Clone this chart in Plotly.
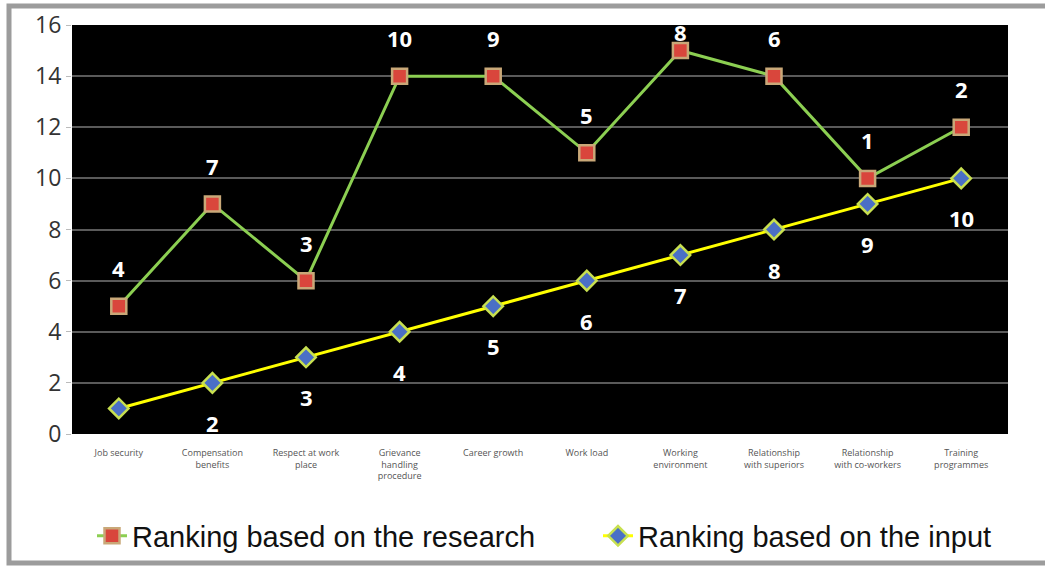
import plotly.graph_objects as go

categories = ["Job security", "Compensation<br>benefits", "Respect at work<br>place",
              "Grievance<br>handling<br>procedure", "Career growth", "Work load",
              "Working<br>environment", "Relationship<br>with superiors",
              "Relationship<br>with co-workers", "Training<br>programmes"]
research_values = [5, 9, 6, 14, 14, 11, 15, 14, 10, 12]
research_labels = ["4", "7", "3", "10", "9", "5", "8", "6", "1", "2"]
input_values = [1, 2, 3, 4, 5, 6, 7, 8, 9, 10]
input_labels = ["", "2", "3", "4", "5", "6", "7", "8", "9", "10"]
y_ticks = [0, 2, 4, 6, 8, 10, 12, 14, 16]
y_max = 16

W, H = 1045, 566
L, R, T, B = 72, 1008, 25, 434

fig = go.Figure()
fig.add_trace(go.Scatter(
    x=categories, y=research_values, mode="lines+markers",
    name="Ranking based on the research", legend="legend",
    line=dict(color="#8ccf52", width=3),
    marker=dict(symbol="square", size=15, color="#d9463c",
                line=dict(color="#c9a878", width=2.5)),
))
fig.add_trace(go.Scatter(
    x=categories, y=input_values, mode="lines+markers",
    name="Ranking based on the input", legend="legend2",
    line=dict(color="#ffff00", width=3),
    marker=dict(symbol="diamond", size=15, color="#4a6fc6",
                line=dict(color="#c8e050", width=2.5)),
))

label_font = dict(family="Open Sans", size=22, color="white", weight="bold")
annotations = []
for c, v, t in zip(categories, research_values, research_labels):
    # the highest label sits closer to its marker, as in the original
    marker_px = T + (y_max - v) / y_max * (B - T)
    shift = min(38, marker_px - 32)
    annotations.append(dict(x=c, y=v, text=t, showarrow=False, yshift=shift, font=label_font))
for c, v, t in zip(categories, input_values, input_labels):
    if t:
        annotations.append(dict(x=c, y=v, text=t, showarrow=False, yshift=-40, font=label_font))

def px_x(p):
    return (p - L) / (R - L)

def px_y(p):
    return (B - p) / (B - T)

shapes = [dict(type="rect", xref="paper", yref="paper",
               x0=px_x(9), x1=px_x(1060), y0=px_y(563), y1=px_y(6),
               line=dict(color="#9c9c9c", width=5), layer="below")]

legend_font = dict(family="Liberation Sans Narrow, Arial Narrow, sans-serif", size=29, color="#111")
fig.update_layout(
    width=W, height=H,
    margin=dict(l=L, r=W - R, t=T, b=H - B, autoexpand=False),
    paper_bgcolor="white", plot_bgcolor="black",
    showlegend=True,
    legend=dict(orientation="h", x=px_x(92), xanchor="left", y=px_y(536), yanchor="middle",
                font=legend_font, itemwidth=30, bgcolor="rgba(0,0,0,0)"),
    legend2=dict(orientation="h", x=px_x(598), xanchor="left", y=px_y(536), yanchor="middle",
                 font=legend_font, itemwidth=30, bgcolor="rgba(0,0,0,0)"),
    annotations=annotations,
    shapes=shapes,
    xaxis=dict(type="category", range=[-0.5, 9.5], showgrid=False, zeroline=False,
               tickfont=dict(family="Open Sans", size=9, color="#555"),
               ticks="outside", ticklen=10, tickcolor="rgba(0,0,0,0)",
               showline=False, fixedrange=True, automargin=False),
    yaxis=dict(range=[0, y_max], tickvals=y_ticks, showgrid=True, gridcolor="#5a5a5a", gridwidth=2,
               zeroline=False, ticks="outside", ticklen=5, tickcolor="#bbbbbb",
               tickfont=dict(family="Open Sans", size=23, color="#333"),
               showline=False, fixedrange=True, automargin=False),
)

fig.write_html("out.html")
